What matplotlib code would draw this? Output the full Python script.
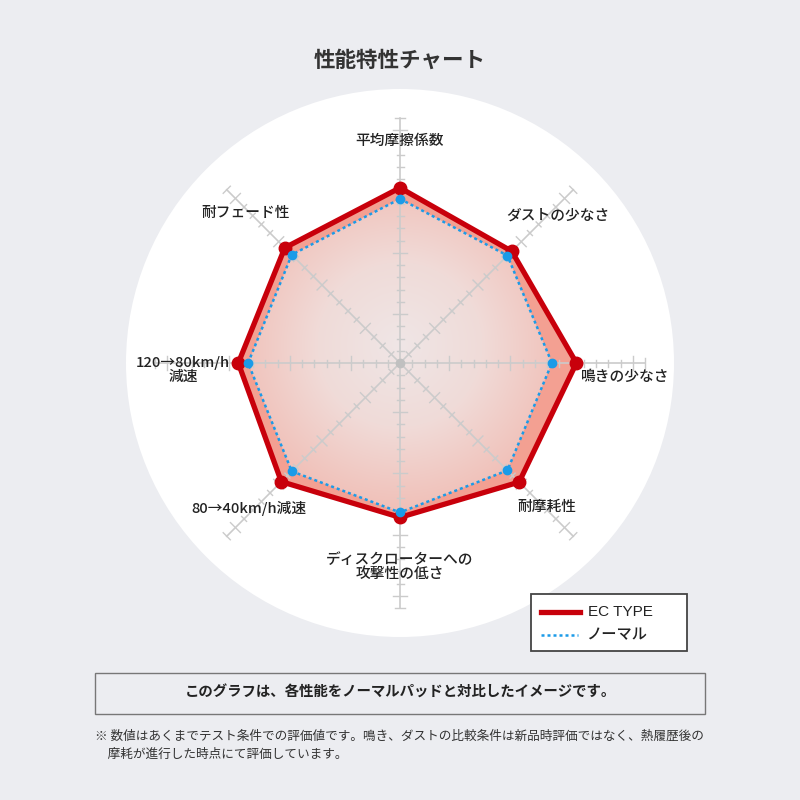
import matplotlib
matplotlib.use('Agg')
import matplotlib.pyplot as plt
import numpy as np
from matplotlib.patches import Circle, Polygon, Rectangle
from matplotlib.lines import Line2D
from matplotlib.colors import LinearSegmentedColormap

plt.rcParams['font.family'] = ['Noto Sans CJK JP', 'DejaVu Sans']

# ---------------------------------------------------------------
categories = ['平均摩擦係数', 'ダストの少なさ', '鳴きの少なさ', '耐摩耗性',
              'ディスクローターへの\n攻撃性の低さ', '80→40km/h減速',
              '120→80km/h\n減速', '耐フェード性']
ec_type = [14.3, 12.9, 14.4, 13.75, 12.6, 13.7, 13.2, 13.3]
normal = [13.4, 12.4, 12.4, 12.4, 12.2, 12.5, 12.4, 12.5]
scale_max = 20
series_names = ['EC TYPE', 'ノーマル']
title = '性能特性チャート'
note_box = 'このグラフは、各性能をノーマルパッドと対比したイメージです。'
footnote = ('※ 数値はあくまでテスト条件での評価値です。鳴き、ダストの比較条件は新品時評価ではなく、熱履歴後の\n'
            '　摩耗が進行した時点にて評価しています。')
# ---------------------------------------------------------------

px = 12.25          # pixels per unit
cx, cy = 400, 363   # centre in pixels
bg = '#ecedf1'
red = '#c8000b'
blue = '#1b9be8'
grid_col = '#cbcbcb'
txt = '#222222'

fig = plt.figure(figsize=(8, 8), dpi=100)
fig.patch.set_facecolor(bg)
ax = fig.add_axes([0, 0, 1, 1])
ax.set_xlim(-cx / px, (800 - cx) / px)
ax.set_ylim(-(800 - cy) / px, cy / px)
ax.set_aspect('equal')
ax.axis('off')

ax.add_patch(Circle((0, 0), 274 / px, facecolor='white', edgecolor='none', zorder=0))

n = len(categories)
ang = np.arange(n) * 2 * np.pi / n
ux, uy = np.sin(ang), np.cos(ang)

def pts(vals):
    v = np.asarray(vals)
    return np.column_stack([v * ux, v * uy])

ec_xy = pts(ec_type)
no_xy = pts(normal)

# EC fill (salmon), normal fill with radial gradient
ax.add_patch(Polygon(ec_xy, closed=True, facecolor='#f3a092', edgecolor='none', zorder=1))
cmap = LinearSegmentedColormap.from_list('g', ['#efe6e6', '#f0dbd8', '#f1c0b8'])
g = np.linspace(-15, 15, 300)
GX, GY = np.meshgrid(g, g)
R = np.hypot(GX, GY - 1.5) / 13.5
im = ax.imshow(R, extent=(-15, 15, -15, 15), origin='lower', cmap=cmap,
               vmin=0, vmax=1, zorder=1.5, interpolation='bilinear')
clip = Polygon(no_xy, closed=True, transform=ax.transData)
im.set_clip_path(clip)

# axes with ticks
for i in range(n):
    ax.plot([0, scale_max * ux[i]], [0, scale_max * uy[i]], color=grid_col, lw=1.2, zorder=2)
    for k in range(1, scale_max + 1):
        h = 7 / px if k % 5 == 4 else (5 / px if k == scale_max else 3.5 / px)
        bx, by = k * ux[i], k * uy[i]
        ax.plot([bx - h * uy[i], bx + h * uy[i]], [by + h * ux[i], by - h * ux[i]],
                color=grid_col, lw=1.0, zorder=2)
ax.plot(0, 0, 'o', color='#c0c0c0', ms=6, zorder=2)

# series lines
ax.plot(np.append(ec_xy[:, 0], ec_xy[0, 0]), np.append(ec_xy[:, 1], ec_xy[0, 1]),
        color=red, lw=3.8, solid_joinstyle='miter', zorder=3)
ax.plot(ec_xy[:, 0], ec_xy[:, 1], 'o', color=red, ms=9, zorder=3)
ax.plot(np.append(no_xy[:, 0], no_xy[0, 0]), np.append(no_xy[:, 1], no_xy[0, 1]),
        color=blue, lw=1.8, ls=(0, (1.2, 1.2)), zorder=4)
ax.plot(no_xy[:, 0], no_xy[:, 1], 'o', color=blue, ms=6, zorder=4)

# category labels
label_px = [(400, 141), (558, 216), (625, 377), (547, 507),
            (400, 567), (249, 508), (183, 370), (246, 213)]
for lab, (lx, ly) in zip(categories, label_px):
    ax.text((lx - cx) / px, (cy - ly) / px, lab, ha='center', va='center',
            fontsize=10.6, fontweight='medium', color=txt, linespacing=1.05, zorder=5)

# title
fig.text(0.5, 1 - 60 / 800, title, ha='center', va='center', fontsize=15.5,
         fontweight='bold', color='#333333')

# legend
fig.patches.append(Rectangle((531 / 800, 1 - 651 / 800), 156 / 800, 57 / 800,
                             transform=fig.transFigure, facecolor='white',
                             edgecolor='#444444', lw=1.3))
fig.lines.append(Line2D([541 / 800, 580 / 800], [1 - 612 / 800] * 2, transform=fig.transFigure,
                        color=red, lw=3.8))
fig.lines.append(Line2D([541 / 800, 578 / 800], [1 - 635 / 800] * 2, transform=fig.transFigure,
                        color=blue, lw=1.8, ls=(0, (1.2, 1.2))))
fig.text(588 / 800, 1 - 612 / 800, series_names[0], ha='left', va='center', fontsize=11,
         family=['Liberation Sans', 'Noto Sans CJK JP'], color=txt)
fig.text(586 / 800, 1 - 635 / 800, series_names[1], ha='left', va='center', fontsize=11,
         fontweight='medium', color=txt)

# note box
fig.patches.append(Rectangle((95 / 800, 1 - 714 / 800), 610 / 800, 41 / 800,
                             transform=fig.transFigure, facecolor=bg,
                             edgecolor='#777777', lw=1.0))
fig.text(0.5, 1 - 693 / 800, note_box, ha='center', va='center', fontsize=10.4,
         fontweight='bold', color=txt)
fig.text(95 / 800, 1 - 745 / 800, footnote, ha='left', va='center', fontsize=9.1,
         color='#333333', linespacing=1.5)

fig.savefig('out.png', dpi=100, facecolor=bg)
